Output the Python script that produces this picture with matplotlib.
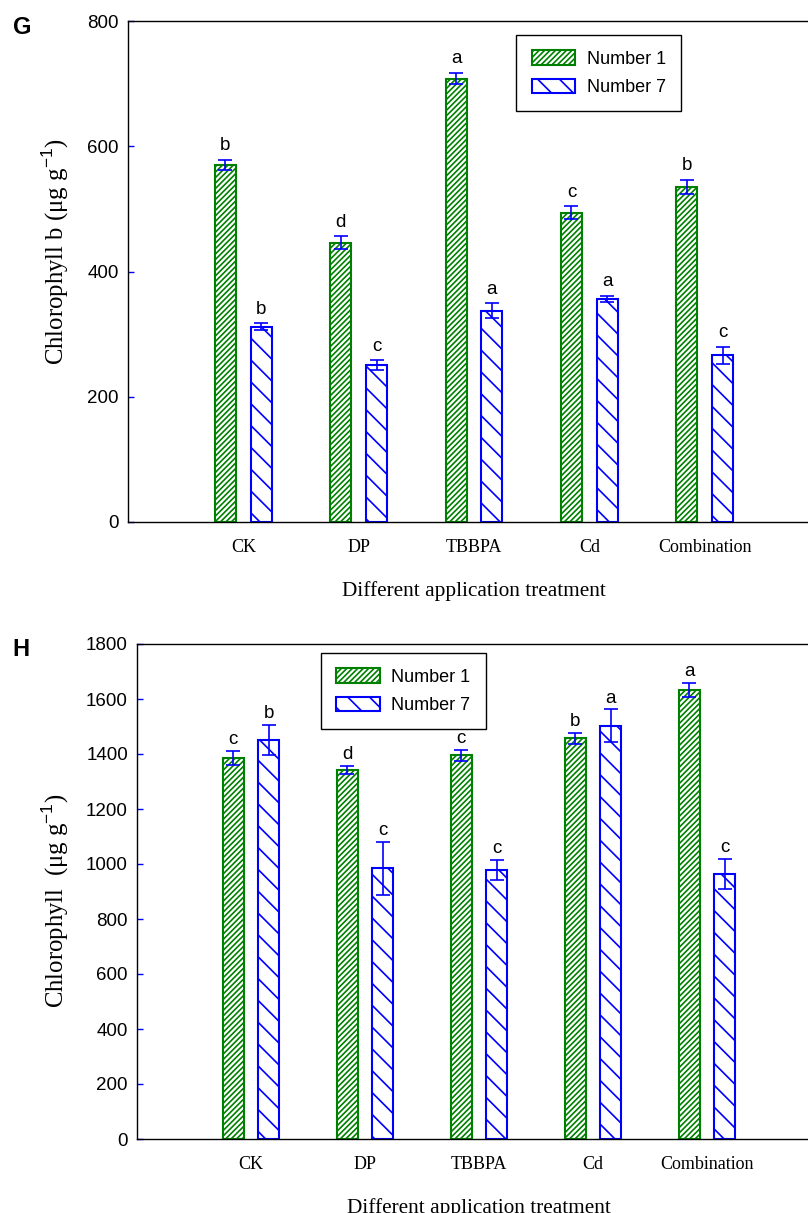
import numpy as np
import matplotlib.pyplot as plt

# dados
tratamentos = ['CK', 'DP', 'TBBPA', 'Cd', 'Combination']

g_n1 = [570, 446, 708, 494, 535]
g_n1_err = [8, 10, 9, 10, 11]
g_n7 = [312, 250, 337, 356, 266]
g_n7_err = [5, 8, 12, 5, 14]
g_n1_let = ['b', 'd', 'a', 'c', 'b']
g_n7_let = ['b', 'c', 'a', 'a', 'c']

h_n1 = [1385, 1342, 1396, 1458, 1633]
h_n1_err = [25, 16, 20, 20, 24]
h_n7 = [1451, 985, 978, 1502, 964]
h_n7_err = [56, 96, 36, 60, 56]
h_n1_let = ['c', 'd', 'c', 'b', 'a']
h_n7_let = ['b', 'c', 'c', 'a', 'c']

# dpi maior para o espaçamento das hachuras; K corrige os tamanhos em pontos
DPI = 131.5
K = 100 / DPI

plt.rcParams['font.family'] = 'Liberation Sans'
plt.rcParams['hatch.linewidth'] = 1.2 * K
plt.rcParams['mathtext.fontset'] = 'custom'
plt.rcParams['mathtext.rm'] = 'Liberation Sans'

VERDE = '#008000'
AZUL = '#0000ff'
serif = 'Liberation Serif'

fig = plt.figure(figsize=(808 / DPI, 1213 / DPI), dpi=DPI)


def painel(rect, n1, n1_err, n7, n7_err, let1, let7, ymax, ylabel, ylab_xy, letra, leg_pos, letra_pos, off):
    ax = fig.add_axes(rect)
    x = np.arange(1, len(tratamentos) + 1)
    w = 0.18
    d = 0.155
    ax.bar(x - d, n1, w, facecolor='white', edgecolor=VERDE, hatch='////////', linewidth=1.5 * K, label='Number 1')
    ax.bar(x + d, n7, w, facecolor='white', edgecolor=AZUL, hatch='\\\\', linewidth=1.5 * K, label='Number 7')
    for xs, v, e in [(x - d, n1, n1_err), (x + d, n7, n7_err)]:
        ax.errorbar(xs, v, yerr=e, fmt='none', ecolor=AZUL, elinewidth=1.2 * K, capsize=5 * K,
                    capthick=1.2 * K, zorder=5)
    for i in range(len(x)):
        ax.annotate(let1[i], (x[i] - d, n1[i] + n1_err[i]), xytext=(0, off * K), textcoords='offset points',
                    ha='center', va='baseline', fontsize=13.5 * K)
        ax.annotate(let7[i], (x[i] + d, n7[i] + n7_err[i]), xytext=(0, off * K), textcoords='offset points',
                    ha='center', va='baseline', fontsize=13.5 * K)
    ax.set_xlim(0, 6)
    ax.set_ylim(0, ymax)
    ax.set_yticks(np.arange(0, ymax + 1, 200))
    ax.set_xticks(x)
    ax.set_xticklabels(tratamentos, fontfamily=serif, fontsize=13 * K)
    ax.tick_params(axis='x', length=0, pad=12 * K)
    ax.tick_params(axis='y', direction='in', length=4 * K, width=1 * K, color=AZUL, labelsize=13.5 * K, pad=6.5 * K)
    for s in ax.spines.values():
        s.set_linewidth(1.0 * K)
    ax.set_xlabel('Different application treatment', fontfamily=serif, fontsize=15.3 * K, labelpad=18 * K)
    ax.set_ylabel(ylabel, fontfamily=serif, fontsize=17.8 * K)
    ax.yaxis.set_label_coords(ylab_xy[0], ylab_xy[1])
    leg = ax.legend(loc='upper left', bbox_to_anchor=leg_pos, borderaxespad=0, fontsize=13 * K,
                    handlelength=2.4, handleheight=0.85, handletextpad=0.65, labelspacing=0.6,
                    borderpad=0.85, fancybox=False, framealpha=1)
    leg.get_frame().set_edgecolor('black')
    leg.get_frame().set_linewidth(1.0 * K)
    fig.text(letra_pos[0], letra_pos[1], letra, fontsize=17 * K, fontweight='bold', ha='left', va='center')
    return ax


ax_g = painel([128 / 808, 691 / 1213, 692 / 808, 501 / 1213], g_n1, g_n1_err, g_n7, g_n7_err, g_n1_let, g_n7_let,
              800, 'Chlorophyll b (μg g$^{-1}$)', (-0.082, 0.539), 'G', (0.561, 0.972),
              (13 / 808, 1 - 28 / 1213), 7)
ax_h = painel([137 / 808, 74 / 1213, 684 / 808, 495 / 1213], h_n1, h_n1_err, h_n7, h_n7_err, h_n1_let, h_n7_let,
              1800, 'Chlorophyll  (μg g$^{-1}$)', (-0.0965, 0.481), 'H', (0.269, 0.982),
              (12 / 808, 1 - 650 / 1213), 5)

plt.savefig('out.png', dpi=DPI)
